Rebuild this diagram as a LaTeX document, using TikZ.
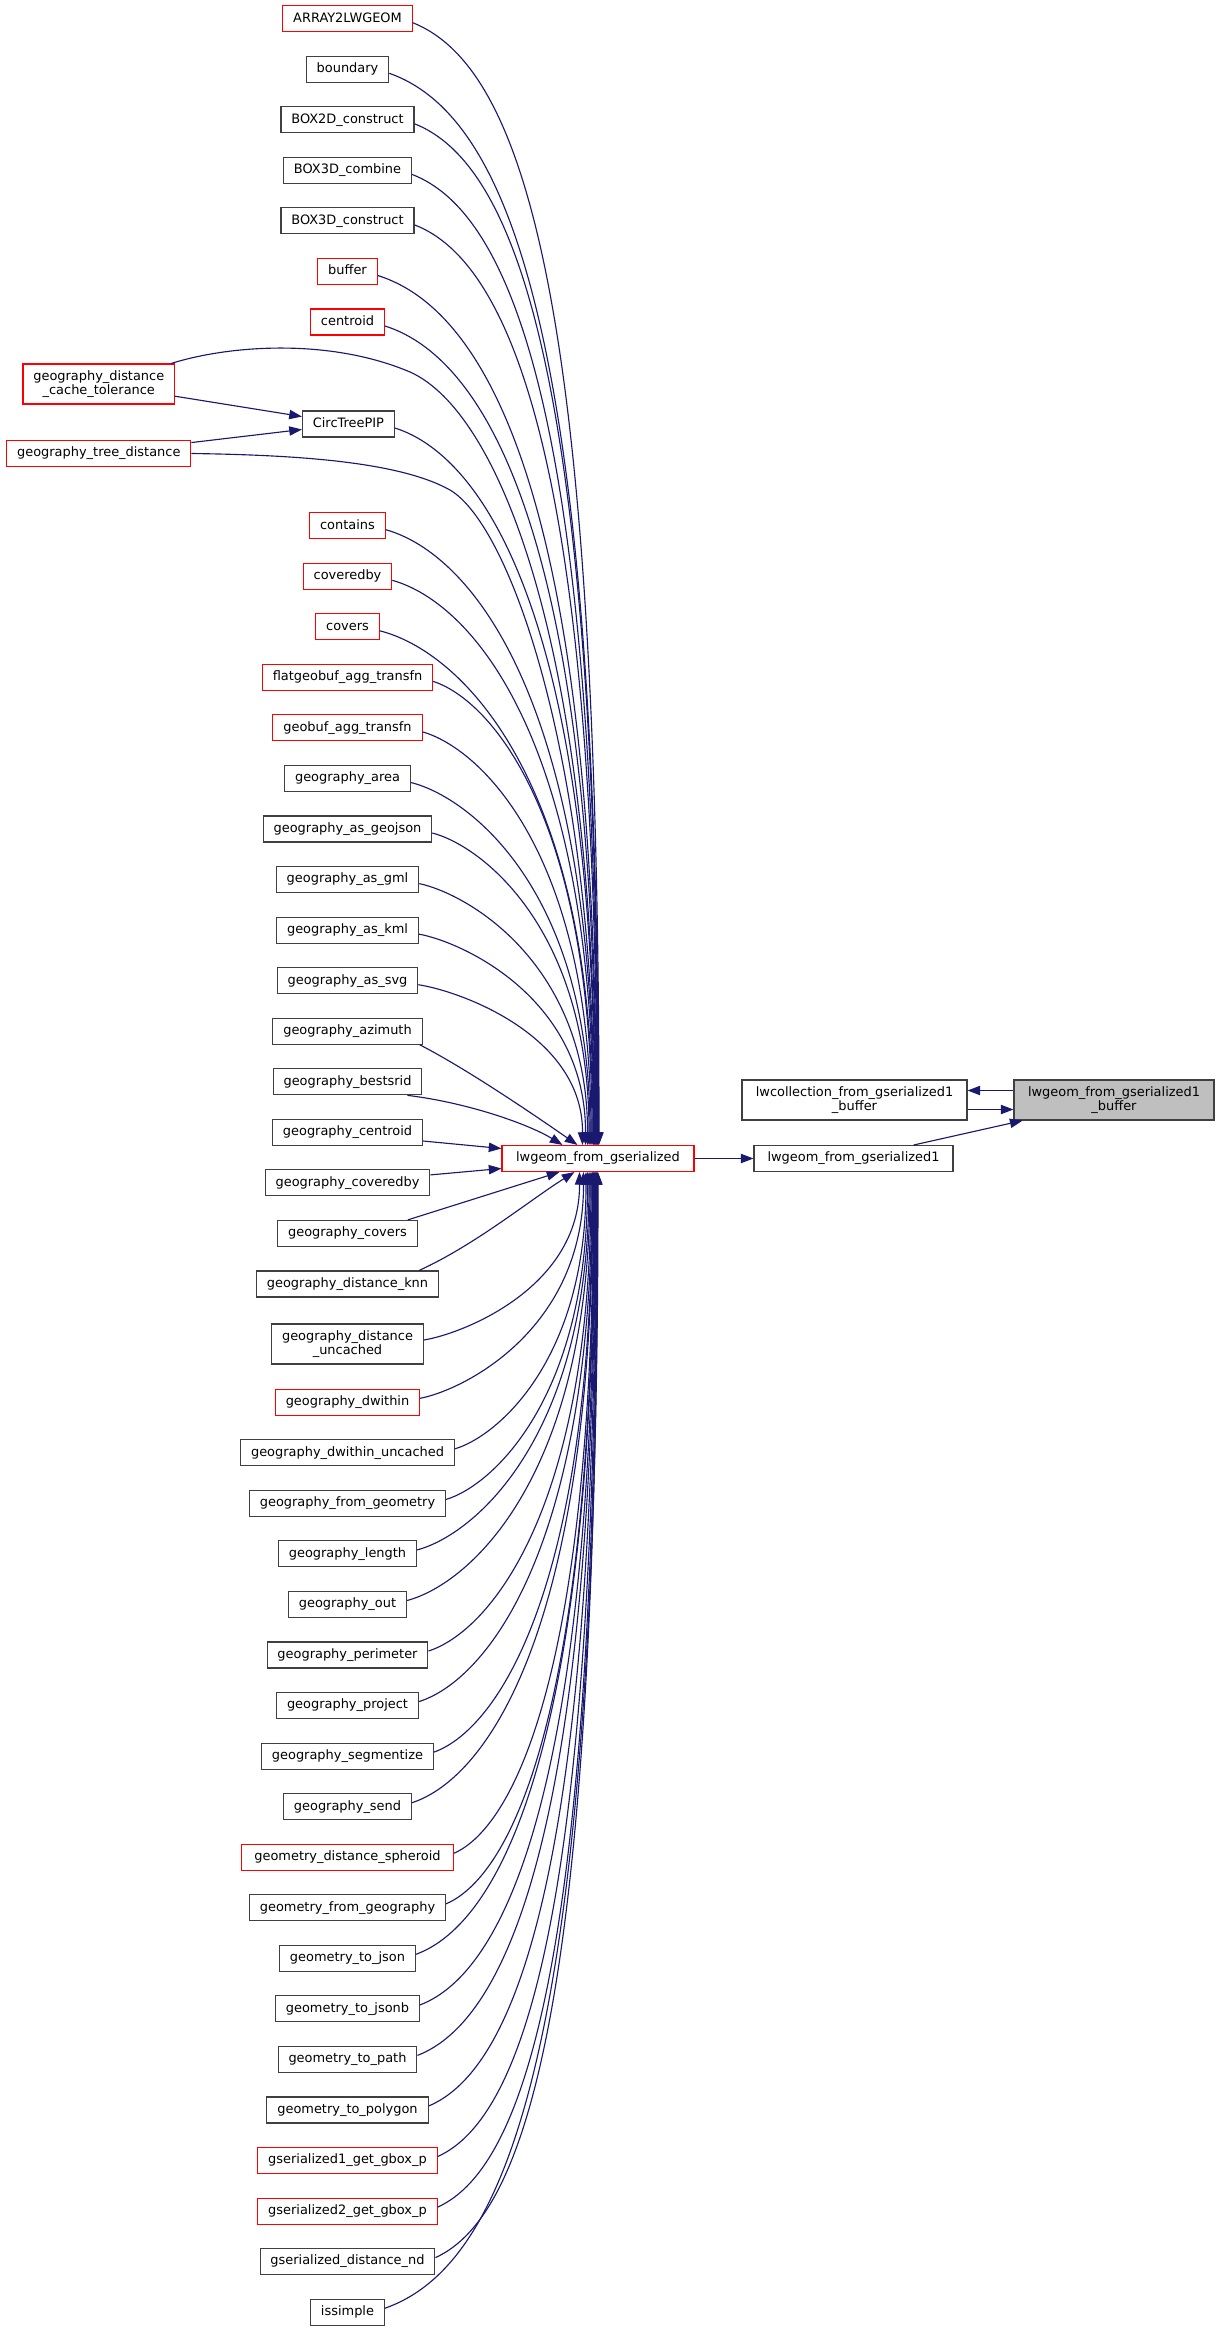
\documentclass[tikz,border=0pt]{standalone}
\usepackage{fontspec}
\setmainfont{DejaVu Sans}
\usetikzlibrary{arrows.meta,calc}
\definecolor{edgecol}{HTML}{191970}
\definecolor{bordgray}{HTML}{404040}
\definecolor{fillgray}{HTML}{BFBFBF}
\definecolor{bordred}{HTML}{FF0000}
\tikzset{
  box/.style={draw, line width=0.8pt, fill=white, inner xsep=7.8pt, font=\fontsize{9.7}{11}\selectfont},
  one/.style={box, minimum height=19.5pt, text height=7.2pt, text depth=2.2pt, inner ysep=0pt},
  two/.style={box, align=center, minimum height=30pt, inner ysep=0pt},
  blk/.style={draw=bordgray},
  rd/.style={draw=bordred},
  gry/.style={draw=bordgray, fill=fillgray},
  edge/.style={draw=edgecol, line width=0.85pt, -{Triangle[length=9.5pt,width=7pt]}, fill=none}
}
\newcommand{\upedge}[2]{%
  \path (#1.east); \pgfgetlastxy{\edgeAX}{\edgeAY}%
  \pgfmathsetmacro{\edgeSX}{(\edgeAX)/0.75}%
  \pgfmathsetmacro{\edgeSY}{0-(\edgeAY)/0.75+4}%
  \pgfmathsetmacro{\edgeD}{1146-\edgeSY}%
  \pgfmathsetmacro{\edgeF}{0.33+0.27*(\edgeD-368)/756}%
  \pgfmathsetmacro{\edgeG}{0.3-0.05*(\edgeD-368)/756}%
  \pgfmathsetmacro{\edgePX}{\edgeSX+\edgeF*(#2-\edgeSX)}%
  \pgfmathsetmacro{\edgePY}{\edgeSY+0.04*\edgeD}%
  \pgfmathsetmacro{\edgeQY}{\edgeSY+\edgeG*\edgeD}%
  \draw[edge] ($(#1.east)+(0,4)$) .. controls (\edgePX,\edgePY) and (#2,\edgeQY) .. ($(lw.north west)+(#2-502,0)$);%
}
\newcommand{\downedge}[2]{%
  \path (#1.east); \pgfgetlastxy{\edgeAX}{\edgeAY}%
  \pgfmathsetmacro{\edgeSX}{(\edgeAX)/0.75}%
  \pgfmathsetmacro{\edgeSY}{0-(\edgeAY)/0.75-4}%
  \pgfmathsetmacro{\edgeD}{\edgeSY-1171}%
  \pgfmathsetmacro{\edgeF}{0.33+0.27*(\edgeD-368)/756}%
  \pgfmathsetmacro{\edgeG}{0.3-0.05*(\edgeD-368)/756}%
  \pgfmathsetmacro{\edgePX}{\edgeSX+\edgeF*(#2-\edgeSX)}%
  \pgfmathsetmacro{\edgePY}{\edgeSY-0.04*\edgeD}%
  \pgfmathsetmacro{\edgeQY}{\edgeSY-\edgeG*\edgeD}%
  \draw[edge] ($(#1.east)+(0,-4)$) .. controls (\edgePX,\edgePY) and (#2,\edgeQY) .. ($(lw.south west)+(#2-502,0)$);%
}
\begin{document}
\begin{tikzpicture}[x=0.75pt,y=-0.75pt]
\useasboundingbox (0,0) rectangle (1217,2333);
% right part
\node[one,rd,minimum width=144pt] (lw) at (598,1158.5) {lwgeom\_from\_gserialized};
\node[one,blk,minimum width=149.25pt] (g1) at (853.5,1158.5) {lwgeom\_from\_gserialized1};
\node[two,blk,minimum width=168.75pt] (lc) at (854.5,1100) {lwcollection\_from\_gserialized1\\\_buffer};
\node[two,gry,minimum width=150pt] (lb) at (1114,1100) {lwgeom\_from\_gserialized1\\\_buffer};
% column 0
\node[two,rd] (ct) at (98.8,384) {geography\_distance\\\_cache\_tolerance};
\node[one,rd] (td) at (98.8,453.5) {geography\_tree\_distance};
% column 1
\node[one,rd] (a1) at (347.5,18.7) {ARRAY2LWGEOM};
\node[one,blk] (a2) at (347.5,69.3) {boundary};
\node[one,blk] (a3) at (347.5,119.8) {BOX2D\_construct};
\node[one,blk] (a4) at (347.5,170.4) {BOX3D\_combine};
\node[one,blk] (a5) at (347.5,220.9) {BOX3D\_construct};
\node[one,rd] (a6) at (347.5,271.5) {buffer};
\node[one,rd] (a7) at (347.5,322.0) {centroid};
\node[one,blk] (cp) at (348.4,424) {CircTreePIP};
\node[one,rd] (b1) at (347.5,525.7) {contains};
\node[one,rd] (b2) at (347.5,576.3) {coveredby};
\node[one,rd] (b3) at (347.5,626.8) {covers};
\node[one,rd] (b4) at (347.5,677.4) {flatgeobuf\_agg\_transfn};
\node[one,rd] (b5) at (347.5,727.9) {geobuf\_agg\_transfn};
\node[one,blk] (b6) at (347.5,778.5) {geography\_area};
\node[one,blk] (b7) at (347.5,829.0) {geography\_as\_geojson};
\node[one,blk] (b8) at (347.5,879.6) {geography\_as\_gml};
\node[one,blk] (b9) at (347.5,930.1) {geography\_as\_kml};
\node[one,blk] (b10) at (347.5,980.7) {geography\_as\_svg};
\node[one,blk] (b11) at (347.5,1031.2) {geography\_azimuth};
\node[one,blk] (b12) at (347.5,1081.8) {geography\_bestsrid};
\node[one,blk] (b13) at (347.5,1132.3) {geography\_centroid};
\node[one,blk] (c1) at (347.5,1182.9) {geography\_coveredby};
\node[one,blk] (c2) at (347.5,1233.4) {geography\_covers};
\node[one,blk] (c3) at (347.5,1284.0) {geography\_distance\_knn};
\node[two,blk] (c4) at (347.5,1344.0) {geography\_distance\\\_uncached};
\node[one,rd] (c5) at (347.5,1402.3) {geography\_dwithin};
\node[one,blk] (c6) at (347.5,1452.8) {geography\_dwithin\_uncached};
\node[one,blk] (c7) at (347.5,1503.4) {geography\_from\_geometry};
\node[one,blk] (c8) at (347.5,1553.9) {geography\_length};
\node[one,blk] (c9) at (347.5,1604.5) {geography\_out};
\node[one,blk] (c10) at (347.5,1655.0) {geography\_perimeter};
\node[one,blk] (c11) at (347.5,1705.6) {geography\_project};
\node[one,blk] (c12) at (347.5,1756.1) {geography\_segmentize};
\node[one,blk] (c13) at (347.5,1806.7) {geography\_send};
\node[one,rd,minimum width=159pt] (c14) at (347.5,1857.2) {geometry\_distance\_spheroid};
\node[one,blk] (c15) at (347.5,1907.8) {geometry\_from\_geography};
\node[one,blk] (c16) at (347.5,1958.3) {geometry\_to\_json};
\node[one,blk] (c17) at (347.5,2008.9) {geometry\_to\_jsonb};
\node[one,blk] (c18) at (347.5,2059.4) {geometry\_to\_path};
\node[one,blk] (c19) at (347.5,2110.0) {geometry\_to\_polygon};
\node[one,rd] (c20) at (347.5,2160.5) {gserialized1\_get\_gbox\_p};
\node[one,rd] (c21) at (347.5,2211.1) {gserialized2\_get\_gbox\_p};
\node[one,blk] (c22) at (347.5,2261.6) {gserialized\_distance\_nd};
\node[one,blk] (c23) at (347.5,2312.2) {issimple};
% edges from above
\upedge{a1}{599.5}
\upedge{a2}{599}
\upedge{a3}{598.5}
\upedge{a4}{598}
\upedge{a5}{597.5}
\upedge{a6}{597}
\upedge{a7}{596.5}
\upedge{cp}{595.5}
\upedge{b1}{594.5}
\upedge{b2}{594}
\upedge{b3}{593.5}
\upedge{b4}{592.5}
\upedge{b5}{591.5}
\upedge{b6}{590.5}
\upedge{b7}{589.5}
\upedge{b8}{588}
\upedge{b9}{586}
\upedge{b10}{583}
\draw[edge] ($(b11.south east)+(-3,0)$) .. controls (465,1068) and (530,1112) .. ($(lw.north west)+(76,0)$);
\draw[edge] ($(b12.south east)+(-15,0)$) .. controls (470,1103) and (530,1125) .. ($(lw.north west)+(61,0)$);
\draw[edge] ($(b13.east)+(0,8.7)$) -- ($(lw.west)+(0,-10)$);
\draw[edge] ($(c1.east)+(0,-8)$) -- ($(lw.west)+(0,10)$);
\draw[edge] ($(c2.north east)+(-10,0)$) -- ($(lw.south west)+(58,0)$);
\draw[edge] ($(c3.north east)+(-20,0)$) .. controls (475,1245) and (530,1200) .. ($(lw.south west)+(73,0)$);
% column 0 edges
\draw[edge] ($(ct.north east)+(-4,0)$) .. controls (230,345) and (330,338) .. (410,372) .. controls (500,412) and (596,650) .. ($(lw.north west)+(94,0)$);
\draw[edge] (td.east) .. controls (300,455) and (400,462) .. (450,490) .. controls (510,525) and (595,760) .. ($(lw.north west)+(93,0)$);
\draw[edge] (ct) -- (cp);
\draw[edge] (td) -- (cp);
% edges from below
\downedge{c4}{580}
\downedge{c5}{584}
\downedge{c6}{586.5}
\downedge{c7}{588}
\downedge{c8}{589.5}
\downedge{c9}{590.5}
\downedge{c10}{591.5}
\downedge{c11}{592.5}
\downedge{c12}{593}
\downedge{c13}{593.5}
\downedge{c14}{594}
\downedge{c15}{594.5}
\downedge{c16}{595}
\downedge{c17}{595.5}
\downedge{c18}{596}
\downedge{c19}{596.5}
\downedge{c20}{597}
\downedge{c21}{597.5}
\downedge{c22}{598}
\downedge{c23}{598.5}
% right part edges
\draw[edge] (lw) -- (g1);
\draw[edge] (g1) -- (lb);
\draw[edge] ($(lb.west)+(0,-9.5)$) -- ($(lc.east)+(0,-9.5)$);
\draw[edge] ($(lc.east)+(0,9.5)$) -- ($(lb.west)+(0,9.5)$);
\end{tikzpicture}
\end{document}
